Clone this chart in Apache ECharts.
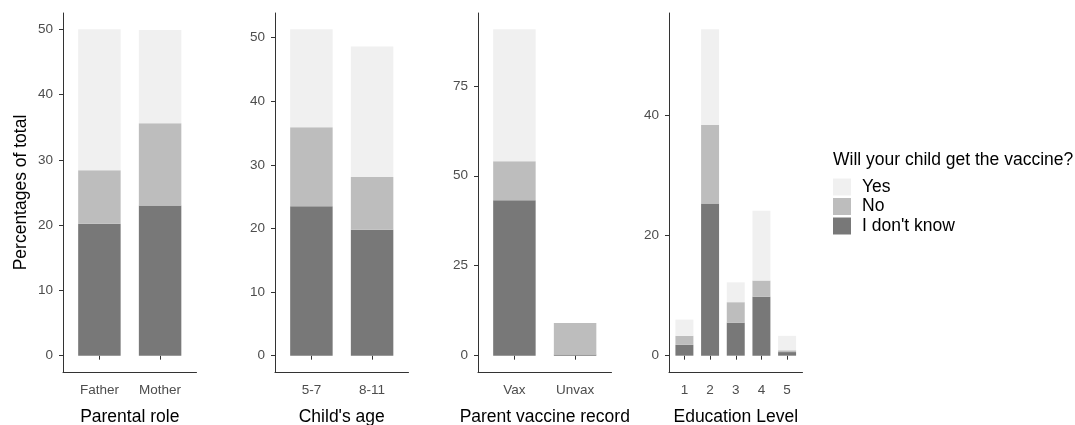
<!DOCTYPE html>
<html>
<head>
<meta charset="utf-8">
<script src="https://cdn.jsdelivr.net/npm/echarts@6/dist/echarts.min.js"></script>
<style>
html,body{margin:0;padding:0;background:#fff;}
#chart{width:1075px;height:425px;}
</style>
</head>
<body>
<div id="chart"></div>
<script>
// ---- data ----
const seriesNames = ['Yes', 'No', "I don't know"];

const categories1 = ['Father', 'Mother'];
const idk1 = [20.2, 23.0];
const no1  = [8.2, 12.6];
const yes1 = [21.6, 14.3];
const yTicks1 = [0, 10, 20, 30, 40, 50];

const categories2 = ['5-7', '8-11'];
const idk2 = [23.5, 19.8];
const no2  = [12.4, 8.3];
const yes2 = [15.4, 20.5];
const yTicks2 = [0, 10, 20, 30, 40, 50];

const categories3 = ['Vax', 'Unvax'];
const idk3 = [43.2, 0.3];
const no3  = [10.8, 8.8];
const yes3 = [36.7, 0];
const yTicks3 = [0, 25, 50, 75];

const categories4 = ['1', '2', '3', '4', '5'];
const idk4 = [1.8, 25.3, 5.5, 9.8, 0.6];
const no4  = [1.5, 13.1, 3.4, 2.7, 0.3];
const yes4 = [2.7, 15.9, 3.3, 11.6, 2.4];
const yTicks4 = [0, 20, 40];

const xTitles = ['Parental role', "Child's age", 'Parent vaccine record', 'Education Level'];
const yTitle = 'Percentages of total';
const legendTitle = 'Will your child get the vaccine?';

// ---- layout / style ----
const FONT = '"Liberation Sans", Arial, Helvetica, sans-serif';
const colors = {"Yes": '#F0F0F0', "No": '#BDBDBD', "I don't know": '#787878'};
const panelLefts = [63, 275, 478, 669];
const panelWidth = 133.5;
const panelTop = 13;
const panelHeight = 359;

const panels = [
  {cats: categories1, idk: idk1, no: no1, yes: yes1, ticks: yTicks1},
  {cats: categories2, idk: idk2, no: no2, yes: yes2, ticks: yTicks2},
  {cats: categories3, idk: idk3, no: no3, yes: yes3, ticks: yTicks3},
  {cats: categories4, idk: idk4, no: no4, yes: yes4, ticks: yTicks4}
];

const grid = [], xAxis = [], yAxis = [], series = [];
const axisLineStyle = {color: '#333333', width: 1};
const tickLabelStyle = {fontFamily: FONT, fontSize: 13.5, color: '#4D4D4D'};
const titleStyle = {fontFamily: FONT, fontSize: 17.5, color: '#000'};

panels.forEach((p, i) => {
  const n = p.cats.length;
  const totals = p.cats.map((c, j) => p.idk[j] + p.no[j] + p.yes[j]);
  const M = Math.max.apply(null, totals);
  const yMin = -0.05 * M, yMax = 1.05 * M;
  const unit = panelWidth / (n + 0.2);

  // outer frame grid (axis lines, y ticks, titles)
  const outer = grid.length;
  grid.push({left: panelLefts[i], top: panelTop, width: panelWidth, height: panelHeight,
    containLabel: false, outerBoundsMode: 'none'});
  xAxis.push({
    type: 'value', gridIndex: outer, min: 0, max: 1,
    name: xTitles[i], nameLocation: 'middle', nameGap: 36, nameTextStyle: titleStyle,
    axisLine: {show: true, onZero: false, lineStyle: axisLineStyle},
    axisTick: {show: false}, axisLabel: {show: false}, splitLine: {show: false}
  });
  yAxis.push({
    type: 'value', gridIndex: outer, min: yMin, max: yMax,
    name: i === 0 ? yTitle : '', nameLocation: 'middle', nameGap: 33, nameTextStyle: titleStyle,
    axisLine: {show: true, onZero: false, lineStyle: axisLineStyle},
    axisTick: {show: true, length: 4, lineStyle: axisLineStyle, customValues: p.ticks},
    axisLabel: Object.assign({show: true, margin: 10, customValues: p.ticks}, tickLabelStyle),
    splitLine: {show: false}
  });

  // inner grid (bars on the discrete scale, with ggplot-like 0.6 expansion)
  const inner = grid.length;
  grid.push({left: panelLefts[i] + 0.1 * unit, top: panelTop, width: n * unit, height: panelHeight,
    containLabel: false, outerBoundsMode: 'none'});
  xAxis.push({
    type: 'category', gridIndex: inner, data: p.cats, boundaryGap: true,
    axisLine: {show: false},
    axisTick: {show: true, alignWithLabel: true, length: 4, lineStyle: axisLineStyle},
    axisLabel: Object.assign({show: true, margin: 11, interval: 0}, tickLabelStyle),
    splitLine: {show: false}
  });
  yAxis.push({
    type: 'value', gridIndex: inner, min: yMin, max: yMax, show: false, splitLine: {show: false}
  });

  const stackVals = [["I don't know", p.idk], ['No', p.no], ['Yes', p.yes]];
  stackVals.forEach(([name, vals]) => {
    series.push({
      type: 'bar', name: name, xAxisIndex: inner, yAxisIndex: inner, stack: 'panel' + i,
      barWidth: '70%',
      itemStyle: {color: colors[name]},
      emphasis: {disabled: true},
      data: vals
    });
  });
});

const chart = echarts.init(document.getElementById('chart'), null, {renderer: 'canvas'});
chart.setOption({
  animation: false,
  backgroundColor: '#ffffff',
  title: {
    text: legendTitle, left: 828, top: 146,
    textStyle: {fontFamily: FONT, fontSize: 17.5, fontWeight: 'normal', color: '#000'}
  },
  legend: {
    data: seriesNames, orient: 'vertical', left: 828, top: 173,
    itemWidth: 18, itemHeight: 17, itemGap: 1.5, icon: 'rect', selectedMode: false,
    textStyle: {fontFamily: FONT, fontSize: 17.5, color: '#000', padding: [0, 0, 0, 6]}
  },
  tooltip: {show: false},
  grid: grid, xAxis: xAxis, yAxis: yAxis, series: series
});
</script>
</body>
</html>
